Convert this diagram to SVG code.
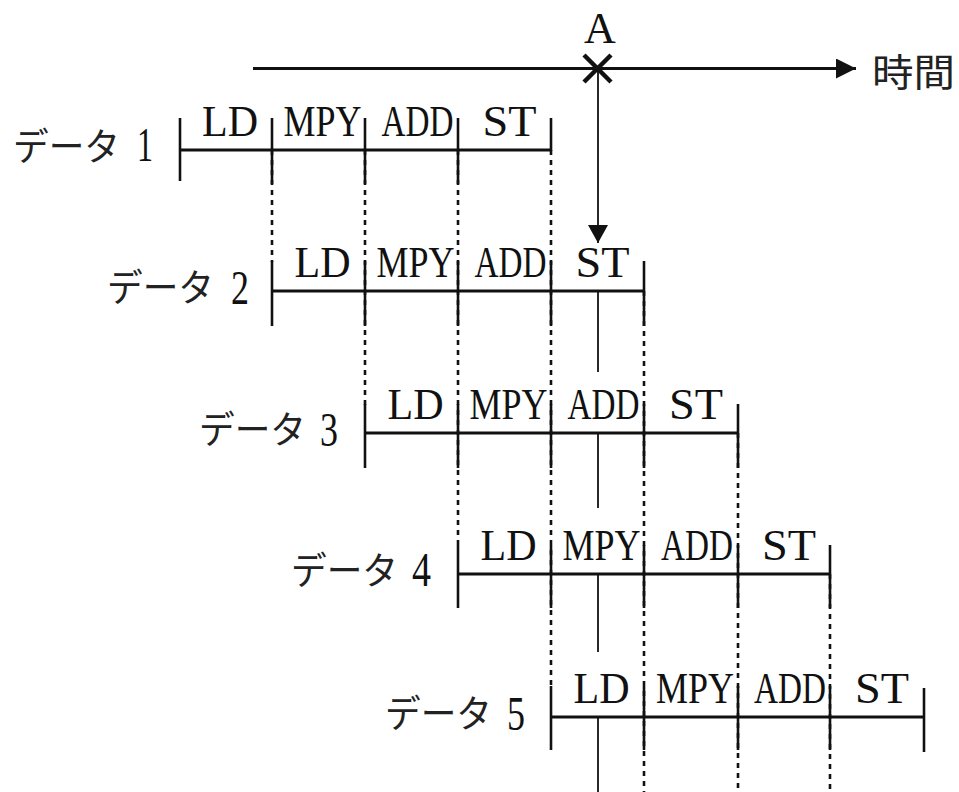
<svg xmlns="http://www.w3.org/2000/svg" width="959" height="792" viewBox="0 0 959 792">
<defs>
<style>
.lat{font-family:"Liberation Serif","Times New Roman",serif;font-size:44px;fill:#111}
.dig{font-family:"Liberation Serif","Times New Roman",serif;font-size:49px;fill:#111}
.kana{font-family:"Noto Sans CJK JP","Noto Sans CJK SC",sans-serif;font-size:38px;fill:#222}
.bar{stroke:#111;stroke-width:3;fill:none}
.tick{stroke:#111;stroke-width:2.6;fill:none}
.dash{stroke:#111;stroke-width:2.6;stroke-dasharray:5 5;fill:none}
.aline{stroke:#111;stroke-width:1.8;fill:none}
</style>
<marker id="ah" viewBox="0 0 20 20" refX="20" refY="10" markerWidth="20" markerHeight="20" markerUnits="userSpaceOnUse" orient="auto">
<path d="M0,0 L20,10 L0,20 Z" fill="#111"/>
</marker>
<marker id="ah2" viewBox="0 0 18 20" refX="18" refY="10" markerWidth="18" markerHeight="20" markerUnits="userSpaceOnUse" orient="auto">
<path d="M0,0 L18,10 L0,20 Z" fill="#111"/>
</marker>
</defs>
<rect width="959" height="792" fill="#fff"/>

<g id="connectors">
<line class="dash" x1="272" y1="150" x2="272" y2="262"/>
<line class="dash" x1="365" y1="150" x2="365" y2="405"/>
<line class="dash" x1="458" y1="150" x2="458" y2="545"/>
<line class="dash" x1="551" y1="150" x2="551" y2="686"/>
<line class="dash" x1="644" y1="291" x2="644" y2="792"/>
<line class="dash" x1="738" y1="433" x2="738" y2="792"/>
<line class="dash" x1="830" y1="574" x2="830" y2="792"/>
<line x1="253" y1="68.5" x2="856" y2="68.5" stroke="#111" stroke-width="3.2" marker-end="url(#ah)"/>
<line class="aline" x1="598" y1="68" x2="598" y2="243" marker-end="url(#ah2)"/>
<line class="aline" x1="598" y1="291" x2="598" y2="372"/>
<line class="aline" x1="598" y1="433" x2="598" y2="508"/>
<line class="aline" x1="598" y1="574" x2="598" y2="652"/>
<line class="aline" x1="598" y1="717" x2="598" y2="792"/>
</g>

<g id="pointA">
<path d="M584,55 L611,82 M611,55 L584,82" stroke="#111" stroke-width="4.5" fill="none"/>
<text class="lat" x="600" y="43" text-anchor="middle" font-size="46">A</text>
</g>

<g id="time-label">
<text class="kana" x="872" y="86" font-size="42" textLength="83" lengthAdjust="spacingAndGlyphs">時間</text>
</g>

<g id="data1">
<text class="kana" x="13" y="160" textLength="107" lengthAdjust="spacingAndGlyphs">データ</text>
<text class="dig" x="137" y="161" textLength="16" lengthAdjust="spacingAndGlyphs">1</text>
<line class="bar" x1="180" y1="150" x2="551" y2="150"/>
<line class="tick" x1="180" y1="118" x2="180" y2="181"/>
<line class="tick" x1="272" y1="118" x2="272" y2="184"/>
<line class="tick" x1="365" y1="118" x2="365" y2="184"/>
<line class="tick" x1="458" y1="118" x2="458" y2="184"/>
<line class="tick" x1="551" y1="118" x2="551" y2="151"/>
<text class="lat" x="202" y="136" textLength="56" lengthAdjust="spacingAndGlyphs">LD</text>
<text class="lat" x="283.5" y="136" textLength="78" lengthAdjust="spacingAndGlyphs">MPY</text>
<text class="lat" x="381.5" y="136" textLength="72" lengthAdjust="spacingAndGlyphs">ADD</text>
<text class="lat" x="482.5" y="136" textLength="54" lengthAdjust="spacingAndGlyphs">ST</text>
</g>

<g id="data2">
<text class="kana" x="107" y="301" textLength="107" lengthAdjust="spacingAndGlyphs">データ</text>
<text class="dig" x="231" y="304" textLength="18" lengthAdjust="spacingAndGlyphs">2</text>
<line class="bar" x1="272" y1="291" x2="644" y2="291"/>
<line class="tick" x1="272" y1="261" x2="272" y2="326"/>
<line class="tick" x1="365" y1="261" x2="365" y2="326"/>
<line class="tick" x1="458" y1="261" x2="458" y2="326"/>
<line class="tick" x1="551" y1="261" x2="551" y2="326"/>
<line class="tick" x1="644" y1="261" x2="644" y2="326"/>
<text class="lat" x="294.5" y="277" textLength="56" lengthAdjust="spacingAndGlyphs">LD</text>
<text class="lat" x="376.5" y="277" textLength="78" lengthAdjust="spacingAndGlyphs">MPY</text>
<text class="lat" x="474.5" y="277" textLength="72" lengthAdjust="spacingAndGlyphs">ADD</text>
<text class="lat" x="575.5" y="277" textLength="54" lengthAdjust="spacingAndGlyphs">ST</text>
</g>

<g id="data3">
<text class="kana" x="199" y="443" textLength="107" lengthAdjust="spacingAndGlyphs">データ</text>
<text class="dig" x="320" y="446" textLength="18" lengthAdjust="spacingAndGlyphs">3</text>
<line class="bar" x1="365" y1="433" x2="738" y2="433"/>
<line class="tick" x1="365" y1="404" x2="365" y2="468"/>
<line class="tick" x1="458" y1="404" x2="458" y2="468"/>
<line class="tick" x1="551" y1="404" x2="551" y2="468"/>
<line class="tick" x1="644" y1="404" x2="644" y2="468"/>
<line class="tick" x1="738" y1="404" x2="738" y2="468"/>
<text class="lat" x="387.5" y="419" textLength="56" lengthAdjust="spacingAndGlyphs">LD</text>
<text class="lat" x="469.5" y="419" textLength="78" lengthAdjust="spacingAndGlyphs">MPY</text>
<text class="lat" x="567.5" y="419" textLength="72" lengthAdjust="spacingAndGlyphs">ADD</text>
<text class="lat" x="669" y="419" textLength="54" lengthAdjust="spacingAndGlyphs">ST</text>
</g>

<g id="data4">
<text class="kana" x="291" y="584" textLength="107" lengthAdjust="spacingAndGlyphs">データ</text>
<text class="dig" x="412" y="586" textLength="19" lengthAdjust="spacingAndGlyphs">4</text>
<line class="bar" x1="458" y1="574" x2="830" y2="574"/>
<line class="tick" x1="458" y1="545" x2="458" y2="608"/>
<line class="tick" x1="551" y1="545" x2="551" y2="608"/>
<line class="tick" x1="644" y1="545" x2="644" y2="608"/>
<line class="tick" x1="738" y1="545" x2="738" y2="608"/>
<line class="tick" x1="830" y1="545" x2="830" y2="608"/>
<text class="lat" x="480.5" y="560" textLength="56" lengthAdjust="spacingAndGlyphs">LD</text>
<text class="lat" x="562.5" y="560" textLength="78" lengthAdjust="spacingAndGlyphs">MPY</text>
<text class="lat" x="661" y="560" textLength="72" lengthAdjust="spacingAndGlyphs">ADD</text>
<text class="lat" x="762" y="560" textLength="54" lengthAdjust="spacingAndGlyphs">ST</text>
</g>

<g id="data5">
<text class="kana" x="385" y="727" textLength="107" lengthAdjust="spacingAndGlyphs">データ</text>
<text class="dig" x="507" y="730" textLength="18" lengthAdjust="spacingAndGlyphs">5</text>
<line class="bar" x1="551" y1="717" x2="924" y2="717"/>
<line class="tick" x1="551" y1="686" x2="551" y2="750"/>
<line class="tick" x1="644" y1="686" x2="644" y2="750"/>
<line class="tick" x1="738" y1="686" x2="738" y2="750"/>
<line class="tick" x1="830" y1="686" x2="830" y2="750"/>
<line class="tick" x1="924" y1="688" x2="924" y2="752"/>
<text class="lat" x="573.5" y="703" textLength="56" lengthAdjust="spacingAndGlyphs">LD</text>
<text class="lat" x="656" y="703" textLength="78" lengthAdjust="spacingAndGlyphs">MPY</text>
<text class="lat" x="754" y="703" textLength="72" lengthAdjust="spacingAndGlyphs">ADD</text>
<text class="lat" x="855" y="703" textLength="54" lengthAdjust="spacingAndGlyphs">ST</text>
</g>
</svg>
